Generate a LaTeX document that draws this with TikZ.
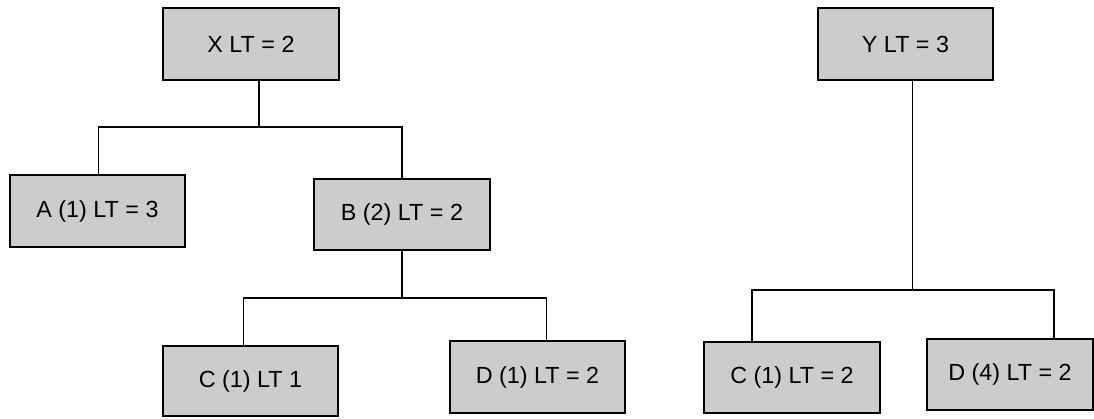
\documentclass[tikz,border=0pt]{standalone}
\usepackage{fontspec}
\setmainfont{Liberation Sans}
\definecolor{boxgray}{RGB}{204,204,204}
\begin{document}
\begin{tikzpicture}[x=0.75pt,y=-0.75pt,
  treebox/.style={draw=black,line width=0.8pt,fill=boxgray,inner sep=0pt,
    minimum width=132pt,minimum height=54pt,font=\fontsize{17.5}{20}\selectfont},
  link/.style={draw=black,line width=0.8pt}]
\useasboundingbox (0,0) rectangle (1094,418);
% left tree
\node[treebox] (X) at (251,44) {X LT = 2};
\node[treebox,minimum width=131.25pt] (A) at (97.5,211) {A (1) LT = 3};
\node[treebox,minimum height=53.25pt] (B) at (402,214.5) {B (2) LT = 2};
\node[treebox,minimum width=131.25pt,minimum height=52.5pt] (C1) at (250.5,381) {C (1) LT 1};
\node[treebox,minimum width=131.25pt] (D1) at (537.5,377) {D (1) LT = 2};
% right tree
\node[treebox,minimum width=131.25pt] (Y) at (905.5,44) {Y LT = 3};
\node[treebox,minimum height=53.25pt] (C2) at (792,377.5) {C (1) LT = 2};
\node[treebox,minimum width=124.5pt,minimum height=53.25pt] (D4) at (1010,374.5) {D (4) LT = 2};
% junctions
\coordinate (jX) at (259,127);
\coordinate (jB) at (402,298);
\coordinate (jY) at (912.5,290);
% connectors
\draw[link] ([xshift=6pt]X.south) -- (jX);
\draw[link] ([xshift=1pt]A.north) |- (jX) -| (B.north);
\draw[link] (B.south) -- (jB);
\draw[link] ([xshift=-5.6pt]C1.north) |- (jB) -| ([xshift=6.4pt]D1.north);
\draw[link] ([xshift=5.25pt]Y.south) -- (jY);
\draw[link] ([xshift=-30pt]C2.north) |- (jY) -| ([xshift=33pt]D4.north);
\end{tikzpicture}
\end{document}
